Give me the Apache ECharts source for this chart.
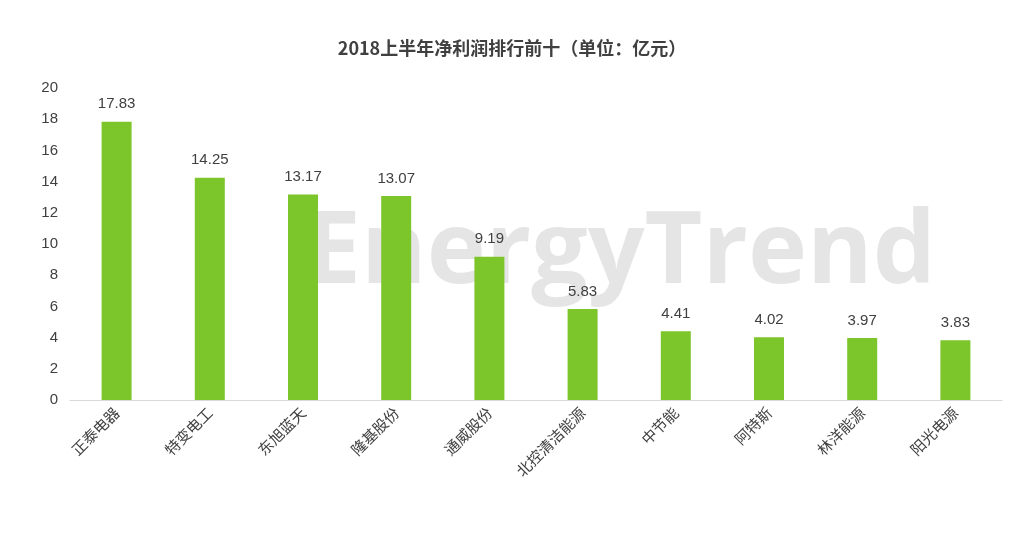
<!DOCTYPE html>
<html><head><meta charset="utf-8">
<script src="https://cdn.jsdelivr.net/npm/echarts@6/dist/echarts.min.js"></script>
<style>html,body{margin:0;padding:0;background:#fff}#c{width:1024px;height:534px}</style>
</head><body><div id="c"></div>
<script>
const categories = ['正泰电器','特变电工','东旭蓝天','隆基股份','通威股份','北控清洁能源','中节能','阿特斯','林洋能源','阳光电源'];
const values = [17.83,14.25,13.17,13.07,9.19,5.83,4.41,4.02,3.97,3.83];
const titleText = '2018上半年净利润排行前十（单位：亿元）';
const chart = echarts.init(document.getElementById('c'));
chart.setOption({
  animation:false,
  title:{text:titleText,left:'center',top:34,textStyle:{fontFamily:'Noto Sans CJK SC',fontSize:18,fontWeight:'bold',color:'#404040'}},
  graphic:[{type:'text',left:305,top:205,z:-10,silent:true,style:{text:'EnergyTrend',font:'bold 100px "Open Sans"',fill:'rgba(170,170,170,0.3)'}}],
  grid:{left:70,right:22,top:88,bottom:134},
  xAxis:{type:'category',data:categories,axisTick:{show:false},
    axisLine:{lineStyle:{color:'#d9d9d9'}},
    axisLabel:{rotate:45,fontSize:15,color:'#404040',fontFamily:'Noto Sans CJK SC',margin:10}},
  yAxis:{type:'value',min:0,max:20,interval:2,splitLine:{show:false},
    axisLabel:{fontSize:15,color:'#404040',margin:12}},
  series:[{type:'bar',z:10,data:values,barWidth:30,itemStyle:{color:'#7cc52a'},
    label:{show:true,position:'top',distance:10,fontSize:15,color:'#404040'}}]
});
</script></body></html>
